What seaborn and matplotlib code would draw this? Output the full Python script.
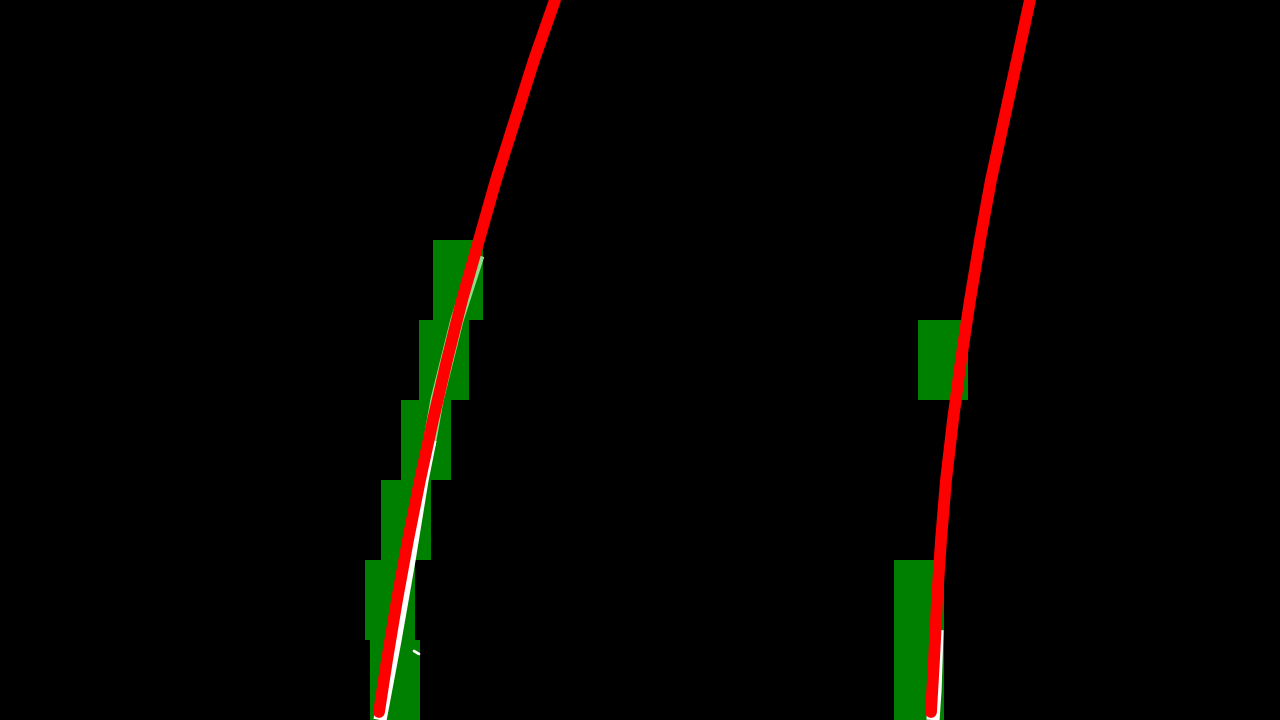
import numpy as np
import pandas as pd
import matplotlib
matplotlib.use("Agg")
import matplotlib.pyplot as plt
from matplotlib.patches import Rectangle
import seaborn as sns

# ---- sliding windows (top-left corner, pixels) ----
win_w = 50
win_h = 80
left_win_x = [370, 365, 381, 401, 419, 433]
left_win_y = [640, 560, 480, 400, 320, 240]
right_win_x = [894, 894, 918]
right_win_y = [640, 560, 320]

# ---- fitted lane lines ----
left_fit_y = [0, 60, 120, 180, 240, 300, 360, 420, 480, 540, 600, 660, 712]
left_fit_x = [555, 534, 515, 496, 479, 462, 447, 433, 420, 408, 397, 387, 379]
right_fit_y = [0, 60, 120, 180, 240, 300, 360, 420, 480, 540, 600, 660, 712]
right_fit_x = [1030, 1017, 1004, 991, 980, 970, 961, 953, 946, 941, 937, 934, 931]

# ---- detected lane pixels: solid white near the bottom, faint fringe higher up ----
left_px_y = [440, 480, 560, 640, 720]
left_px_x = [430, 422, 409, 395, 380]
left_faint_y = [255, 320, 400, 445]
left_faint_x = [478, 457, 437, 429]
right_px_y = [630, 660, 690, 720]
right_px_x = [937, 936, 935, 933]

sns.set_theme(style="dark")
fig = plt.figure(figsize=(12.8, 7.2), dpi=100)
ax = fig.add_axes([0, 0, 1, 1])
fig.patch.set_facecolor("black")
ax.set_facecolor("black")

for xs, ys in [(left_win_x, left_win_y), (right_win_x, right_win_y)]:
    for x0, y0 in zip(xs, ys):
        ax.add_patch(Rectangle((x0, y0), win_w, win_h, color="#008000", lw=0, zorder=1))

ax.plot(left_faint_x, left_faint_y, color="#8fdc8f", lw=9.5, zorder=2, solid_capstyle="butt")
px = pd.DataFrame({"x": left_px_x + right_px_x,
                   "y": left_px_y + right_px_y,
                   "lane": ["left"] * len(left_px_x) + ["right"] * len(right_px_x)})
sns.lineplot(data=px, x="x", y="y", units="lane", estimator=None, sort=False,
             color="white", lw=9.5, ax=ax, zorder=2, solid_capstyle="butt")
# stray pixel blob
ax.plot([414, 419], [651, 654], color="white", lw=2, zorder=2)

fits = pd.DataFrame({"x": left_fit_x + right_fit_x,
                     "y": left_fit_y + right_fit_y,
                     "lane": ["left"] * len(left_fit_x) + ["right"] * len(right_fit_x)})
sns.lineplot(data=fits, x="x", y="y", units="lane", estimator=None, sort=False,
             color="#ff0000", lw=8.5, ax=ax, zorder=3, solid_capstyle="round")

ax.set_xlim(0, 1280)
ax.set_ylim(720, 0)
ax.set_axis_off()
fig.savefig("out.png", dpi=100, facecolor="black")
